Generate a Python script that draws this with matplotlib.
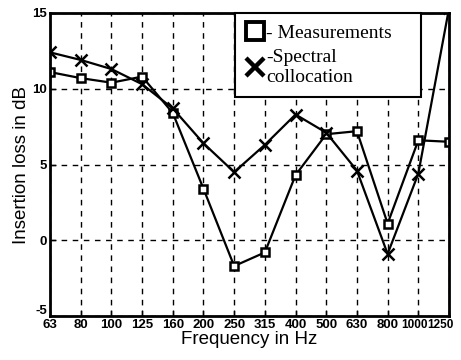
import matplotlib
matplotlib.use("Agg")
import matplotlib.pyplot as plt
import matplotlib.transforms as mtransforms
from matplotlib.lines import Line2D


FREQ_LABELS = ["63", "80", "100", "125", "160", "200", "250", "315",
               "400", "500", "630", "800", "1000", "1250"]
MEASURED = [11.1, 10.7, 10.4, 10.8, 8.4, 3.4, -1.7, -0.8,
            4.3, 7.0, 7.2, 1.1, 6.6, 6.5]
SPECTRAL = [12.4, 11.9, 11.3, 10.3, 8.7, 6.4, 4.5, 6.3,
            8.3, 7.1, 4.6, -0.9, 4.4, 15.3]

TEXT_COLOR = "black"
SANS = ["Liberation Sans", "DejaVu Sans"]
SERIF = ["Liberation Serif", "DejaVu Serif"]

x = list(range(len(FREQ_LABELS)))

fig = plt.figure(figsize=(4.61, 3.6), dpi=100)
ax = fig.add_axes([0.1085, 0.122, 0.8655, 0.842])

ax.plot(x, MEASURED, color="black", linewidth=1.6, marker="s", markersize=6,
        markerfacecolor="white", markeredgecolor="black", markeredgewidth=1.8)
ax.plot(x, SPECTRAL, color="black", linewidth=1.6, marker="x", markersize=8,
        markeredgewidth=1.8)

ax.set_xlim(0, len(FREQ_LABELS) - 1)
ax.set_ylim(-5, 15)
ax.set_xticks(x)
ax.set_xticklabels(FREQ_LABELS, fontfamily=SANS, fontsize=9.5, fontweight="bold")
ax.set_yticks([-5, 0, 5, 10, 15])
ax.set_yticklabels(["-5", "0", "5", "10", "15"], fontfamily=SANS, fontsize=9.5,
                   fontweight="bold")
ax.tick_params(direction="in", length=4, width=1, colors=TEXT_COLOR, pad=2)

# the -5 label sits a little higher so it clears the "63" below it
lift = mtransforms.ScaledTranslation(0, 5 / 72, fig.dpi_scale_trans)
ylabels = ax.get_yticklabels()
ylabels[0].set_transform(ylabels[0].get_transform() + lift)

# last two frequency labels are squeezed together, as in the original
xlabels = ax.get_xticklabels()
for lab, dx in [(xlabels[-2], -3), (xlabels[-1], -6)]:
    lab.set_fontsize(8.5)
    lab.set_transform(lab.get_transform()
                      + mtransforms.ScaledTranslation(dx / 72, 0, fig.dpi_scale_trans))

ax.grid(True, color="black", linestyle=(0, (4, 4)), linewidth=1.0)
ax.set_axisbelow(True)
for spine in ax.spines.values():
    spine.set_linewidth(2)
    spine.set_color("black")

ax.set_xlabel("Frequency in Hz", fontfamily=SANS, fontsize=13.5, labelpad=0)
ax.set_ylabel("Insertion loss in dB", fontfamily=SANS, fontsize=13.5, labelpad=2)

handles = [
    Line2D([], [], linestyle="none", marker="s", markersize=13,
           markerfacecolor="white", markeredgecolor="black", markeredgewidth=2.8),
    Line2D([], [], linestyle="none", marker="x", markersize=13,
           markeredgecolor="black", markeredgewidth=3.2),
]
leg = ax.legend(handles, ["- Measurements", "-Spectral\ncollocation"],
                loc="upper left", bbox_to_anchor=(0.464, 0.72, 0.466, 0.28),
                mode="expand", borderaxespad=0,
                prop={"family": SERIF, "size": 14}, frameon=True, fancybox=False,
                handlelength=0.8, handletextpad=0.2, labelspacing=0.35,
                borderpad=0.6)
leg.get_frame().set_edgecolor("black")
leg.get_frame().set_linewidth(1.5)
leg.get_frame().set_alpha(1)

fig.savefig("out.png", dpi=100)
